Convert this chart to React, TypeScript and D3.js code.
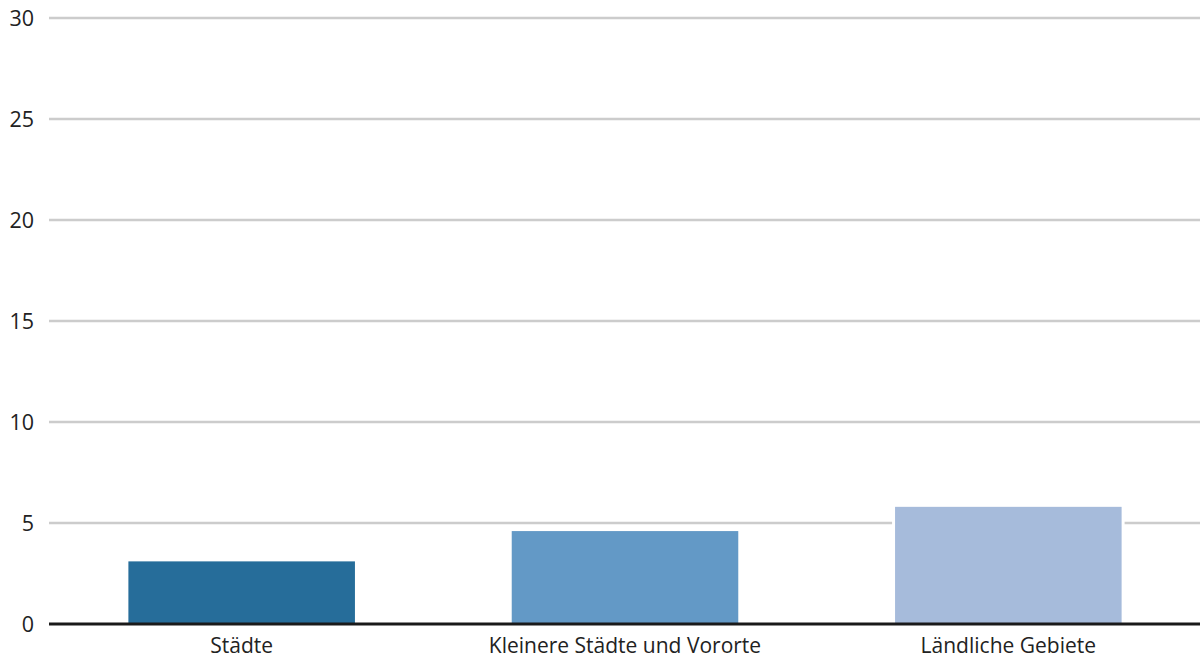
import React from "react";
import * as d3 from "d3";

const categories = ["Städte", "Kleinere Städte und Vororte", "Ländliche Gebiete"];
const values = [3.1, 4.6, 5.8];
const colors = ["#266d9a", "#6399c6", "#a6bbdb"];
const yTicks = [0, 5, 10, 15, 20, 25, 30];

export default function App() {
  const W = 1200, H = 657;
  const left = 49, right = 1200, y0 = 624, yTop = 18;
  const x = d3.scaleBand<string>().domain(categories).range([50, right]).paddingInner(0.409).paddingOuter(0.2045);
  const y = d3.scaleLinear().domain([0, 30]).range([y0, yTop]);
  const font = "'Open Sans', sans-serif";
  return (
    <svg width={W} height={H} style={{ position: "absolute", left: 0, top: 0, background: "#fff" }}>
      {yTicks.filter(t => t !== 0).map(t => (
        <line key={t} x1={left} x2={right} y1={y(t)} y2={y(t)} stroke="#cccccc" strokeWidth={2.5} />
      ))}
      {yTicks.map(t => (
        <text key={"l" + t} x={34} y={y(t)} dy="0.36em" textAnchor="end" fontFamily={font} fontSize={21.5} fill="#222">{t}</text>
      ))}
      {categories.map((c, i) => (
        <g key={c}>
          <rect x={(x(c) as number) - 3} width={x.bandwidth() + 6} y={y(values[i]) - 1} height={y0 - y(values[i]) + 1} fill="#fff" />
          <rect x={x(c) as number} width={x.bandwidth()} y={y(values[i])} height={y0 - y(values[i])} fill={colors[i]} />
          <text x={(x(c) as number) + x.bandwidth() / 2} y={653} textAnchor="middle" fontFamily={font} fontSize={21} fill="#222">{c}</text>
        </g>
      ))}
      <line x1={left} x2={right} y1={y0} y2={y0} stroke="#1a1a1a" strokeWidth={3} />
    </svg>
  );
}
